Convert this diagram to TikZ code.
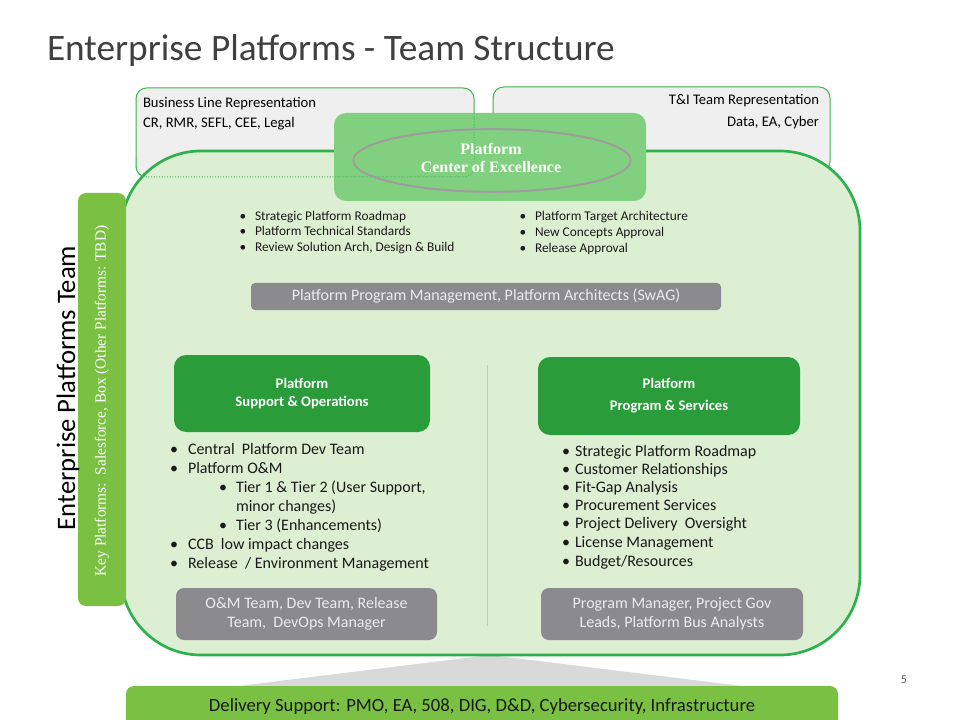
\documentclass[tikz,border=0pt]{standalone}
\usepackage{fontspec}
\setmainfont{Carlito}
\newfontfamily\serifx{Liberation Serif}
\definecolor{titlegray}{HTML}{404040}
\definecolor{topgray}{HTML}{EFEFEF}
\definecolor{topgreen}{HTML}{3CB54A}
\definecolor{bordergreen}{HTML}{2EB04C}
\definecolor{lightfill}{HTML}{DDEFD3}
\definecolor{coegreen}{HTML}{81D07F}
\definecolor{darkgreen}{HTML}{2A9C3A}
\definecolor{limegreen}{HTML}{7AC143}
\definecolor{boxgray}{HTML}{8B8B8F}
\definecolor{ellgray}{HTML}{A09C9E}
\definecolor{wedgegray}{HTML}{D9D9D9}
\definecolor{dotgreen}{HTML}{4DB862}
\begin{document}
\begin{tikzpicture}[x=0.75pt,y=-0.75pt,
  every node/.style={inner sep=0pt, outer sep=0pt},
  topbox/.style={draw=topgreen, line width=0.75pt, fill=topgray, rounded corners=8pt},
  bigshape/.style={draw=bordergreen, line width=2pt, fill=lightfill, rounded corners=60pt},
  coebox/.style={fill=coegreen, rounded corners=9pt},
  darkbox/.style={fill=darkgreen, rounded corners=9pt, text=white, align=center, font=\bfseries\fontsize{11}{13.5}\selectfont},
  graybox/.style={fill=boxgray, rounded corners=6pt, text=white!92!black, align=center},
  keybox/.style={fill=limegreen, rounded corners=6pt},
  toptext/.style={font=\fontsize{11}{13}\selectfont, text=black},
  smallbul/.style={font=\fontsize{10}{12}\selectfont, text=black!90},
  listtext/.style={font=\fontsize{12}{14}\selectfont, text=black!90},
  dotline/.style={draw=dotgreen, dash pattern=on 0.8pt off 1.2pt, line width=0.75pt},
  divider/.style={draw=black!22, line width=0.75pt},
]
\useasboundingbox (0,0) rectangle (960,720);
\fill[white] (0,0) rectangle (960,720);

% title
\node[anchor=base west, font=\fontsize{28}{34}\selectfont, text=titlegray] (title) at (47,61) {Enterprise Platforms - Team Structure};

% top representation boxes
\node[topbox, minimum width=253.5pt, minimum height=66.75pt] (bl) at (305,132.5) {};
\node[topbox, minimum width=252.75pt, minimum height=63.75pt] (ti) at (661.5,129.5) {};
\node[toptext, anchor=base west] (bl1) at (143,108) {Business Line Representation};
\node[toptext, anchor=base west] (bl2) at (143,128) {CR, RMR, SEFL, CEE, Legal};
\node[toptext, anchor=base east] (ti1) at (819,105) {T\&I Team Representation};
\node[toptext, anchor=base east] (ti2) at (819,127) {Data, EA, Cyber};

% wedge below the big shape
\coordinate (wa) at (490,655);
\coordinate (wb) at (222,688);
\coordinate (wc) at (758,688);
\fill[wedgegray] (wa) -- (wb) -- (wc) -- cycle;

% big team shape
\node[bigshape, minimum width=554.25pt, minimum height=378pt] (ept) at (490.5,403) {};

% centre of excellence
\node[coebox, minimum width=234pt, minimum height=66pt] (coe) at (490,157) {};
\draw[dotline, rounded corners=7.5pt] ([yshift=14pt]bl.south west) -- (bl.south west) -- (bl.south east) -- ([yshift=48pt]bl.south east);
\coordinate (ellc) at (492,160.5);
\draw[ellgray, line width=1.5pt] (ellc) ellipse [x radius=104pt, y radius=23.5pt];
\node[align=center, text=white, font=\serifx\bfseries\fontsize{12}{13.5}\selectfont] (coetext) at (491,157.5) {Platform\\Center of Excellence};

% bullet helper
\newcommand\blt[6]{%
  \node[#6, anchor=base] (#1b) at (#2,#4) {\textbullet};
  \node[#6, anchor=base west] (#1) at (#3,#4) {#5};}

\blt{ta}{243}{255}{221}{Strategic Platform Roadmap}{smallbul}
\blt{tb}{243}{255}{236}{Platform Technical Standards}{smallbul}
\blt{tc}{243}{255}{252}{Review Solution Arch, Design \& Build}{smallbul}
\blt{td}{523}{535}{221}{Platform Target Architecture}{smallbul}
\blt{te}{523}{535}{237}{New Concepts Approval}{smallbul}
\blt{tf}{523}{535}{253}{Release Approval}{smallbul}

% program management bar
\node[graybox, rounded corners=3pt, minimum width=352.5pt, minimum height=20.25pt, font=\fontsize{12}{14}\selectfont] (ppm) at (486,296.5) {Platform Program Management, Platform Architects (SwAG)};

% dark boxes
\node[darkbox, minimum width=192pt, minimum height=57.75pt] (sup) at (302,393.5) {Platform\\Support \& Operations};
\node[darkbox, minimum width=196.5pt, minimum height=58.5pt, font=\bfseries\fontsize{11}{16.5}\selectfont] (prog) at (669,396) {Platform\\Program \& Services};

% divider
\coordinate (dv1) at (487,365);
\coordinate (dv2) at (487,626);
\draw[divider] (dv1) -- (dv2);

% left list
\blt{la}{174}{188}{454}{Central\ \ Platform Dev Team}{listtext}
\blt{lb}{174}{188}{473}{Platform O\&M}{listtext}
\blt{lc}{223}{236}{492}{Tier 1 \& Tier 2 (User Support,}{listtext}
\node[listtext, anchor=base west] (lc2) at (236,511) {minor changes)};
\blt{ld}{223}{236}{530}{Tier 3 (Enhancements)}{listtext}
\blt{le}{174}{188}{549}{CCB\ \ low impact changes}{listtext}
\blt{lf}{174}{188}{568}{Release\ \ / Environment Management}{listtext}

% right list
\blt{ra}{566}{575}{456}{Strategic Platform Roadmap}{listtext}
\blt{rb}{566}{575}{474}{Customer Relationships}{listtext}
\blt{rc}{566}{575}{492}{Fit-Gap Analysis}{listtext}
\blt{rd}{566}{575}{510}{Procurement Services}{listtext}
\blt{re}{566}{575}{528}{Project Delivery\ \ Oversight}{listtext}
\blt{rf}{566}{575}{547}{License Management}{listtext}
\blt{rg}{566}{575}{566}{Budget/Resources}{listtext}

% gray team boxes
\node[graybox, minimum width=195.75pt, minimum height=39pt, font=\fontsize{12}{14.25}\selectfont] (gl) at (306.5,614) {O\&M Team, Dev Team, Release\\Team,\ \ DevOps Manager};
\node[graybox, minimum width=196.5pt, minimum height=39pt, font=\fontsize{12}{14.25}\selectfont] (gr) at (672,614) {Program Manager, Project Gov\\Leads, Platform Bus Analysts};

% key platforms box
\node[keybox, minimum width=36pt, minimum height=309.75pt] (key) at (102,399.5) {};
\node[rotate=90, text=white, font=\serifx\fontsize{11.5}{13}\selectfont] (keytext) at (102,401) {Key Platforms:\ \ Salesforce, Box (Other Platforms: TBD)};

% vertical team label
\node[rotate=90, text=black, font=\fontsize{20}{24}\selectfont] (eptlabel) at (68,388) {Enterprise Platforms Team};

% delivery support bar
\node[fill=limegreen, rounded corners=6pt, minimum width=534pt, minimum height=33pt] (del) at (482,708) {};
\node[font=\fontsize{14}{16}\selectfont, text=black!90] (deltext) at (482,707) {Delivery Support: PMO, EA, 508, DIG, D\&D, Cybersecurity, Infrastructure};

% page number
\node[font=\fontsize{9}{11}\selectfont, text=black!65] (pnum) at (904,680) {5};
\end{tikzpicture}
\end{document}
